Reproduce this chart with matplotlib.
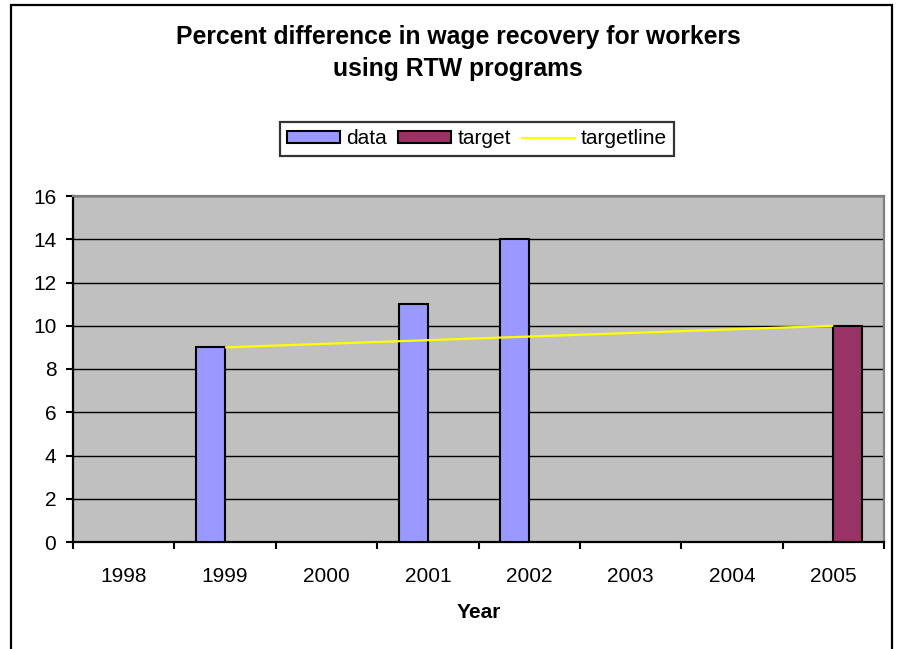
import numpy as np
import matplotlib
matplotlib.use("Agg")
import matplotlib.pyplot as plt
from matplotlib.patches import Rectangle, Patch
from matplotlib.lines import Line2D

plt.rcParams['font.family'] = ['Liberation Sans', 'DejaVu Sans']

years = ['1998', '1999', '2000', '2001', '2002', '2003', '2004', '2005']
data = [np.nan, 9, np.nan, 11, 14, np.nan, np.nan, np.nan]
target = [np.nan, np.nan, np.nan, np.nan, np.nan, np.nan, np.nan, 10]
targetline = [np.nan, 9, np.nan, np.nan, np.nan, np.nan, np.nan, 10]

title_lines = ['Percent difference in wage recovery for workers', 'using RTW programs']
x_label = 'Year'
y_ticks = [0, 2, 4, 6, 8, 10, 12, 14, 16]

DATA_C = '#9999FF'
TARGET_C = '#993366'
LINE_C = '#FFFF00'
W, H = 906, 649

fig = plt.figure(figsize=(W / 100, H / 100), dpi=100)
fig.patch.set_facecolor('white')

# outer chart frame (open at the bottom edge of the image)
fig.patches.append(Rectangle((11 / W, -0.05), (892 - 11) / W, 1.05 - 5 / H,
                             transform=fig.transFigure, fill=False,
                             edgecolor='black', linewidth=1.6, zorder=0))

ax = fig.add_axes([73 / W, (H - 542) / H, (884 - 73) / W, (542 - 196) / H])
ax.set_facecolor('#C0C0C0')

x = np.arange(len(years))
bw = 1 / 3.5
ax.bar(x - bw, data, width=bw, align='edge', color=DATA_C,
       edgecolor='black', linewidth=1.5, zorder=3)
ax.bar(x, target, width=bw, align='edge', color=TARGET_C,
       edgecolor='black', linewidth=1.5, zorder=3)

tl = np.array(targetline, dtype=float)
mask = ~np.isnan(tl)
ax.plot(x[mask], tl[mask], color=LINE_C, linewidth=1.6, zorder=4,
        solid_capstyle='butt')

ax.set_xlim(-0.5, len(years) - 0.5)
ax.set_ylim(0, 16)
ax.set_yticks(y_ticks)
ax.yaxis.grid(True, color='black', linewidth=1.0, zorder=1)
ax.set_axisbelow(True)

# category boundaries carry the tick marks, centres carry the labels
ax.set_xticks(np.arange(-0.5, len(years), 1.0))
ax.set_xticklabels([])
ax.set_xticks(x, minor=True)
ax.set_xticklabels(years, minor=True, fontsize=15)
ax.tick_params(axis='x', which='major', direction='out', length=5, width=1.5,
               color='black')
ax.tick_params(axis='x', which='minor', length=0, pad=18)
ax.tick_params(axis='y', direction='out', length=5, width=1.5, pad=7,
               labelsize=15)

for s in ('left', 'bottom'):
    ax.spines[s].set_color('black')
    ax.spines[s].set_linewidth(1.6)
for s in ('top', 'right'):
    ax.spines[s].set_color('#808080')
    ax.spines[s].set_linewidth(1.6)

ax.set_xlabel(x_label, fontsize=15, fontweight='bold', labelpad=12)

fig.text(458 / W, 1 - 37 / H, title_lines[0], ha='center', va='center',
         fontsize=17.8, fontweight='bold')
fig.text(458 / W, 1 - 69 / H, title_lines[1], ha='center', va='center',
         fontsize=17.8, fontweight='bold')

handles = [Patch(facecolor=DATA_C, edgecolor='black', linewidth=1.5),
           Patch(facecolor=TARGET_C, edgecolor='black', linewidth=1.5),
           Line2D([], [], color=LINE_C, linewidth=1.6)]
leg = fig.legend(handles, ['data', 'target', 'targetline'], ncol=3,
                 loc='center', bbox_to_anchor=(477 / W, 1 - 139 / H),
                 fontsize=15, frameon=True, fancybox=False, shadow=False,
                 handlelength=2.55, handleheight=0.5, handletextpad=0.29,
                 columnspacing=0.53, borderpad=0.35, borderaxespad=0)
leg.get_frame().set_edgecolor('black')
leg.get_frame().set_linewidth(1.6)

fig.savefig('out.png', dpi=100)
